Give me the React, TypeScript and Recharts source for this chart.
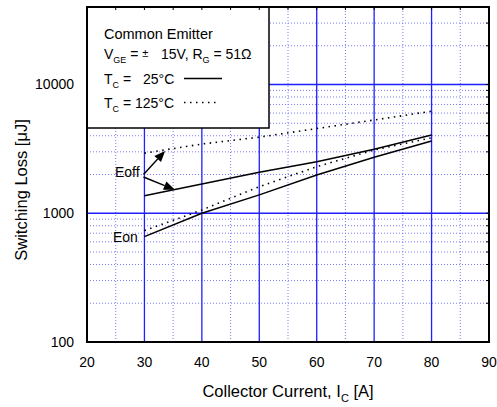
import React from "react";
import { LineChart, Line, XAxis, YAxis, ReferenceLine } from "recharts";

const currents = [30, 40, 50, 60, 70, 80];
const eoff25 = [1370, 1690, 2080, 2510, 3140, 4050];
const eoff125 = [2930, 3450, 3900, 4550, 5300, 6200];
const eon25 = [658, 1000, 1390, 1980, 2720, 3640];
const eon125 = [733, 1060, 1610, 2300, 3100, 3860];

const xTicks = [20, 25, 30, 35, 40, 45, 50, 55, 60, 65, 70, 75, 80, 85, 90];
const yTicks = [100, 1000, 10000];
const xMajor = [30, 40, 50, 60, 70, 80];
const xMinor = [25, 35, 45, 55, 65, 75, 85];
const yMajor = [1000, 10000];
const yMinor = [200, 300, 400, 500, 600, 700, 800, 900, 2000, 3000, 4000, 5000, 6000, 7000, 8000, 9000, 20000, 30000];

const data = currents.map((c, i) => ({
  ic: c,
  eoff25: eoff25[i],
  eoff125: eoff125[i],
  eon25: eon25[i],
  eon125: eon125[i],
}));

const W = 497;
const H = 407;
const X0 = 87;
const X1 = 489;
const Y1 = 7;
const Y0 = 342;
const XMIN = 20;
const XMAX = 90;
const YMIN = 100;
const YMAX = 40000;

const xPx = (v: number) => X0 + ((v - XMIN) / (XMAX - XMIN)) * (X1 - X0);
const yPx = (v: number) =>
  Y0 - ((Math.log10(v) - Math.log10(YMIN)) / (Math.log10(YMAX) - Math.log10(YMIN))) * (Y0 - Y1);

const FONT = "'Liberation Sans', Arial, Helvetica, sans-serif";
const MAJOR = "#1f1fff";
const MINOR = "#7a7aff";

function Arrow({ x1, y1, x2, y2 }: { x1: number; y1: number; x2: number; y2: number }) {
  const dx = x2 - x1;
  const dy = y2 - y1;
  const len = Math.sqrt(dx * dx + dy * dy);
  const ux = dx / len;
  const uy = dy / len;
  const hl = 11;
  const hw = 4.5;
  const bx = x2 - ux * hl;
  const by = y2 - uy * hl;
  const p1 = `${x2},${y2}`;
  const p2 = `${bx - uy * hw},${by + ux * hw}`;
  const p3 = `${bx + uy * hw},${by - ux * hw}`;
  return (
    <g>
      <line x1={x1} y1={y1} x2={bx} y2={by} stroke="#000" strokeWidth={1.4} />
      <polygon points={`${p1} ${p2} ${p3}`} fill="#000" />
    </g>
  );
}

export default function App() {
  return (
    <div style={{ position: "absolute", left: 0, top: 0, width: W, height: H, background: "#fff" }}>
      <LineChart
        width={W}
        height={H}
        data={data}
        margin={{ top: Y1, right: W - X1, left: 0, bottom: 0 }}
      >
        <XAxis
          dataKey="ic"
          type="number"
          domain={[XMIN, XMAX]}
          ticks={xTicks}
          interval={0}
          tickFormatter={(v: number) => (v % 10 === 0 ? String(v) : "")}
          height={H - Y0 - 0}
          tickLine={false}
          axisLine={false}
          tickSize={0}
          tickMargin={15}
          tick={{ fill: "#000", fontSize: 14, fontFamily: FONT }}
        />
        <YAxis
          type="number"
          scale="log"
          domain={[YMIN, YMAX]}
          allowDataOverflow
          ticks={yTicks}
          interval={0}
          width={X0}
          tickLine={false}
          axisLine={false}
          tickSize={0}
          tickMargin={13}
          tick={{ fill: "#000", fontSize: 14, fontFamily: FONT }}
        />
        {xMinor.map((v) => (
          <ReferenceLine key={"xm" + v} x={v} stroke={MINOR} strokeWidth={1} strokeDasharray="1 2" />
        ))}
        {yMinor.map((v) => (
          <ReferenceLine key={"ym" + v} y={v} stroke={MINOR} strokeWidth={1} strokeDasharray="1 2" />
        ))}
        {xMajor.map((v) => (
          <ReferenceLine key={"xM" + v} x={v} stroke={MAJOR} strokeWidth={1.3} />
        ))}
        {yMajor.map((v) => (
          <ReferenceLine key={"yM" + v} y={v} stroke={MAJOR} strokeWidth={1.3} />
        ))}
        <Line dataKey="eoff25" type="linear" stroke="#000" strokeWidth={1.5} dot={false} isAnimationActive={false} />
        <Line dataKey="eon25" type="linear" stroke="#000" strokeWidth={1.5} dot={false} isAnimationActive={false} />
        <Line
          dataKey="eoff125"
          type="linear"
          stroke="#000"
          strokeWidth={1.6}
          strokeDasharray="1.5 4.5"
          dot={false}
          isAnimationActive={false}
        />
        <Line
          dataKey="eon125"
          type="linear"
          stroke="#000"
          strokeWidth={1.6}
          strokeDasharray="1.5 4.5"
          dot={false}
          isAnimationActive={false}
        />
      </LineChart>
      <svg
        width={W}
        height={H}
        style={{ position: "absolute", left: 0, top: 0, pointerEvents: "none" }}
        fontFamily={FONT}
      >
        {/* legend box */}
        <rect x={X0} y={Y1} width={182} height={121} fill="#fff" stroke="#000" strokeWidth={1.5} />
        <text x={104} y={39} fontSize={14.5} fill="#000">Common Emitter</text>
        <text x={104} y={58.5} fontSize={14} fill="#000">
          V<tspan fontSize={9} dy={4}>GE</tspan>
          <tspan dy={-4}> = </tspan>
          <tspan fontSize={11} dy={-2}>±</tspan>
          <tspan x={161} dy={2}>15V, R</tspan>
          <tspan fontSize={9} dy={4}>G</tspan>
          <tspan dy={-4}> = 51Ω</tspan>
        </text>
        <text x={104} y={83.5} fontSize={14} fill="#000">
          T<tspan fontSize={9} dy={4}>C</tspan>
          <tspan dy={-4}> =</tspan>
          <tspan x={143}>25°C</tspan>
        </text>
        <line x1={184} y1={78.5} x2={222} y2={78.5} stroke="#000" strokeWidth={1.3} />
        <text x={104} y={107.5} fontSize={14} fill="#000">
          T<tspan fontSize={9} dy={4}>C</tspan>
          <tspan dy={-4}> =</tspan>
          <tspan x={135}>125°C</tspan>
        </text>
        <line x1={184} y1={102.5} x2={219} y2={102.5} stroke="#000" strokeWidth={1.6} strokeDasharray="1.5 4.5" />

        {/* annotations */}
        <text x={115} y={177} fontSize={14} fill="#000">Eoff</text>
        <text x={113} y={242} fontSize={14} fill="#000">Eon</text>
        <Arrow x1={143.5} y1={174.5} x2={xPx(33.6)} y2={yPx(3050)} />
        <Arrow x1={143.5} y1={177} x2={xPx(35.3)} y2={yPx(1520)} />

        {/* frame with inward ticks */}
        {xTicks.slice(1, -1).map((v) => (
          <line key={"tt" + v} x1={xPx(v)} y1={Y1} x2={xPx(v)} y2={Y1 + 3} stroke="#000" strokeWidth={1} />
        ))}
        {[...yMinor, ...yMajor].map((v) => (
          <line key={"rt" + v} x1={X1 - 3} y1={yPx(v)} x2={X1} y2={yPx(v)} stroke="#000" strokeWidth={1} />
        ))}
        <rect x={X0} y={Y1} width={X1 - X0} height={Y0 - Y1} fill="none" stroke="#000" strokeWidth={2} />

        {/* axis titles */}
        <text x={288} y={397} fontSize={16.5} fill="#000" textAnchor="middle">
          Collector Current, I<tspan fontSize={11} dy={5}>C</tspan>
          <tspan dy={-5}> [A]</tspan>
        </text>
        <text x={27} y={190} fontSize={16.5} fill="#000" textAnchor="middle" transform="rotate(-90, 27, 190)">
          Switching Loss [μJ]
        </text>
      </svg>
    </div>
  );
}
